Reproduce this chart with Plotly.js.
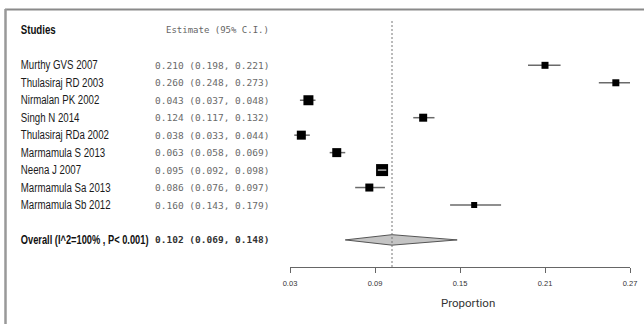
<!DOCTYPE html>
<html>
<head>
<meta charset="utf-8">
<script src="https://cdn.plot.ly/plotly-3.0.1.min.js"></script>
<style>html,body{margin:0;padding:0;background:#fff;}#chart{width:644px;height:324px;}</style>
</head>
<body>
<div id="chart"></div>
<script>
// ---- data ----
const studies = ["Murthy GVS 2007","Thulasiraj RD 2003","Nirmalan PK 2002","Singh N 2014","Thulasiraj RDa 2002","Marmamula S 2013","Neena J 2007","Marmamula Sa 2013","Marmamula Sb 2012"];
const estimates = [0.210,0.260,0.043,0.124,0.038,0.063,0.095,0.086,0.160];
const lowerCI   = [0.198,0.248,0.037,0.117,0.033,0.058,0.092,0.076,0.143];
const upperCI   = [0.221,0.273,0.048,0.132,0.044,0.069,0.098,0.097,0.179];
const overallLabel = "Overall (I^2=100% , P< 0.001)";
const overallEst = [0.102];
const overallLower = [0.069];
const overallUpper = [0.148];
const tickVals = [0.03,0.09,0.15,0.21,0.27];
const tickLabels = ["0.03","0.09","0.15","0.21","0.27"];
const headerStudies = "Studies";
const headerEstimate = "Estimate (95% C.I.)";
const xTitle = "Proportion";

// ---- styles ----
const boxSizes = [7,7,10,8,9,9,12,8,6];
const W = 644, H = 324;
const xLeftPx = 290, xRightPx = 630;
const pxPerUnit = (xRightPx - xLeftPx) / (tickVals[tickVals.length-1] - tickVals[0]);
const rowPx0 = 30.4, rowStep = 17.46, axisPx = 267;
const idx = py => (py - rowPx0) / rowStep;
const rows = studies.map((_, i) => i + 2);
const overallRow = studies.length + 3;
const fmt = v => v.toFixed(3);
const estText = (e, l, u) => fmt(e) + " (" + fmt(l) + ", " + fmt(u) + ")";
const NARROW = 0.775; // horizontal condensing of the label font (narrow sans look)

const nameFont = "'Liberation Sans Narrow','Arial Narrow','Liberation Sans',Arial,sans-serif";
const monoFont = "'DejaVu Sans Mono','Liberation Mono',monospace";
const tickFont = "'Liberation Sans',Arial,sans-serif";

// CI segments
const ciX = [], ciY = [];
studies.forEach((_, i) => { ciX.push(lowerCI[i], upperCI[i], null); ciY.push(rows[i], rows[i], null); });
// inner segments drawn light when CI fits inside the box
const inX = [], inY = [];
studies.forEach((_, i) => {
  const half = boxSizes[i] / 2 / pxPerUnit;
  if ((upperCI[i] - lowerCI[i]) / 2 < half) { inX.push(lowerCI[i], upperCI[i], null); inY.push(rows[i], rows[i], null); }
});

const dh = 0.3;
const traces = [
  {x: ciX, y: ciY, mode: 'lines', line: {color: '#6a6a6a', width: 1.5}, hoverinfo: 'skip', showlegend: false},
  {x: estimates, y: rows, mode: 'markers', marker: {symbol: 'square', color: '#000', size: boxSizes, opacity: 1, line: {width: 0}}, showlegend: false},
  {x: inX, y: inY, mode: 'lines', line: {color: '#d8d8d8', width: 1.2}, hoverinfo: 'skip', showlegend: false},
  {x: [overallLower[0], overallEst[0], overallUpper[0], overallEst[0], overallLower[0]],
   y: [overallRow, overallRow - dh, overallRow, overallRow + dh, overallRow],
   mode: 'lines', fill: 'toself', fillcolor: '#c4c4c4', line: {color: '#555', width: 1}, showlegend: false}
];

const annotations = [];
const addText = (text, xpx, y, anchor, font) => annotations.push({
  text: text, xref: 'paper', yref: 'y', x: xpx / W, y: y, xanchor: anchor, yanchor: 'middle', align: anchor,
  showarrow: false, font: font, borderpad: 0
});
addText(headerStudies, 19.5, 0, 'left', {family: nameFont, size: 12.5, color: '#111', weight: 'bold'});
addText(headerEstimate, 270, 0, 'right', {family: monoFont, size: 9, color: '#666'});
studies.forEach((s, i) => {
  addText(s, 19.5, rows[i], 'left', {family: nameFont, size: 12.5, color: '#1a1a1a'});
  addText(estText(estimates[i], lowerCI[i], upperCI[i]), 270, rows[i], 'right', {family: monoFont, size: 9.5, color: '#6a6a6a'});
});
addText(overallLabel, 19.5, overallRow, 'left', {family: nameFont, size: 12, color: '#111', weight: 'bold'});
addText(estText(overallEst[0], overallLower[0], overallUpper[0]), 270, overallRow, 'right', {family: monoFont, size: 9.5, color: '#333', weight: 'bold'});
annotations.push({text: xTitle, xref: 'paper', yref: 'paper', x: 468 / W, y: 1 - 303 / H, xanchor: 'center', yanchor: 'middle', showarrow: false,
  font: {family: "Roboto, 'Liberation Sans', sans-serif", size: 11.5, color: '#333'}});

const layout = {
  width: W, height: H,
  margin: {l: 0, r: 0, t: 0, b: 0, pad: 0},
  paper_bgcolor: '#fff', plot_bgcolor: 'rgba(0,0,0,0)',
  showlegend: false,
  xaxis: {
    domain: [xLeftPx / W, xRightPx / W], range: [tickVals[0], tickVals[tickVals.length-1]],
    tickmode: 'array', tickvals: tickVals, ticktext: tickLabels,
    showgrid: false, zeroline: false, showline: true, linecolor: '#666', linewidth: 1,
    ticks: 'outside', ticklen: 5, tickcolor: '#666', tickwidth: 1,
    tickfont: {family: tickFont, size: 7.5, color: '#333'}, ticklabelstandoff: 4,
    fixedrange: true
  },
  yaxis: {
    domain: [1 - axisPx / H, 1], range: [idx(axisPx), idx(0)],
    showgrid: false, zeroline: false, showline: false, showticklabels: false, ticks: '', fixedrange: true
  },
  shapes: [
    {type: 'line', xref: 'x', yref: 'y', x0: overallEst[0], x1: overallEst[0], y0: idx(21), y1: idx(axisPx),
     line: {color: '#777', width: 1, dash: '2px,2px'}},
    {type: 'line', xref: 'paper', yref: 'paper', x0: 5 / W, x1: 1, y0: 1 - 9.5 / H, y1: 1 - 9.5 / H, line: {color: '#8a8a8a', width: 2}},
    {type: 'line', xref: 'paper', yref: 'paper', x0: 5.5 / W, x1: 5.5 / W, y0: 1 - 9 / H, y1: 0, line: {color: '#999', width: 2.5}}
  ],
  annotations: annotations
};

Plotly.newPlot('chart', traces, layout, {displayModeBar: false, staticPlot: true}).then(gd => {
  // condense the left-aligned sans-serif labels (narrow face not installed):
  // scale each label's inner group horizontally about its own left edge
  gd.querySelectorAll('.annotation-text').forEach(t => {
    const fam = (t.style.fontFamily || '');
    if (fam.indexOf('Narrow') >= 0) {
      const g = t.parentNode;
      const tr = g.getAttribute('transform') || '';
      g.setAttribute('transform', tr + ' scale(' + NARROW + ',1)');
    }
  });
});
</script>
</body>
</html>
